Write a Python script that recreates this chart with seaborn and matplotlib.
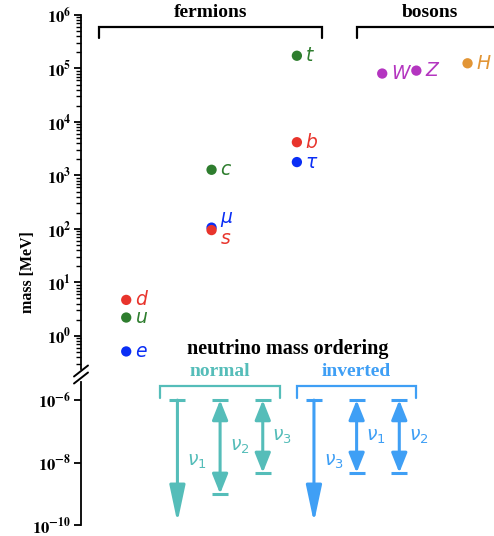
import numpy as np
import matplotlib
matplotlib.use("Agg")
import matplotlib.pyplot as plt
import seaborn as sns
from matplotlib.lines import Line2D

sns.set_theme(style="ticks")
plt.rcParams['font.family'] = ['DejaVu Sans']
plt.rcParams['axes.edgecolor'] = 'black'
plt.rcParams['text.color'] = 'black'
plt.rcParams['ytick.color'] = 'black'
plt.rcParams['ytick.labelcolor'] = 'black'
plt.rcParams['ytick.left'] = True
plt.rcParams['ytick.major.size'] = 5
plt.rcParams['ytick.minor.size'] = 3.5
plt.rcParams['ytick.major.width'] = 1.3
plt.rcParams['ytick.minor.width'] = 1.0

# -------------------------------
# Data: charged fermions and bosons
# -------------------------------
names = ['e', 'u', 'd', r'\mu', 's', 'c', r'\tau', 'b', 't', 'W', 'Z', 'H']
xpos = [1, 1, 1, 2, 2, 2, 3, 3, 3, 4, 4.4, 5]
mass = [0.511, 2.2, 4.7, 105.7, 95, 1275, 1777, 4180, 173000, 80400, 91200, 125000]
colors = ['#0a2ef5', '#2e7d2e', '#e8342c', '#0a2ef5', '#e8342c', '#2e7d2e',
          '#0a2ef5', '#e8342c', '#2e7d2e', '#b435c0', '#b435c0', '#e29535']
label_dy = [0, 0, 0, 6, -6, 0, 0, 0, 0, 0, 0, 0]

# neutrino mass ordering
nu_names = [r'$\nu_1$', r'$\nu_2$', r'$\nu_3$', r'$\nu_3$', r'$\nu_1$', r'$\nu_2$']
nu_x = [1.6, 2.1, 2.6, 3.2, 3.7, 4.2]
nu_hi = [1e-6, 1e-6, 1e-6, 1e-6, 1e-6, 1e-6]
nu_lo = [1.2e-10, 1.0e-9, 4.7e-9, 1.2e-10, 4.7e-9, 4.7e-9]
nu_open = [True, False, False, True, False, False]
nu_colors = ['#55bdb9'] * 3 + ['#3f9ff5'] * 3

top_ticks = [1e0, 1e1, 1e2, 1e3, 1e4, 1e5, 1e6]
top_labels = [r'$\mathbf{10^{%d}}$' % k for k in range(0, 7)]
bot_ticks = [1e-10, 1e-8, 1e-6]
bot_labels = [r'$\mathbf{10^{%d}}$' % k for k in (-10, -8, -6)]

# -------------------------------
# Figure and axes (broken y axis)
# -------------------------------
fig = plt.figure(figsize=(4.94, 5.36), dpi=100)
W, H = 494, 536
def px_box(x0, y0, x1, y1):
    return [x0 / W, 1 - y1 / H, (x1 - x0) / W, (y1 - y0) / H]

ax = fig.add_axes(px_box(81, 15, 494, 369))
axb = fig.add_axes(px_box(81, 382, 494, 525))

# particle points
sns.scatterplot(x=xpos, y=mass, hue=names, palette=dict(zip(names, colors)),
                s=55, edgecolor='none', legend=False, ax=ax, zorder=3)
for n, x, m, c, dy in zip(names, xpos, mass, colors, label_dy):
    ax.annotate('$%s$' % n, (x, m), xytext=(6, dy), textcoords='offset points',
                ha='left', va='center', fontsize=13.5, color=c, annotation_clip=False)

xlim = (0.47, 5.31)
for a in (ax, axb):
    a.set_yscale('log')
    a.set_xlim(*xlim)
    for s in ('top', 'right', 'bottom'):
        a.spines[s].set_visible(False)
    a.spines['left'].set_linewidth(1.3)
    a.set_xticks([])
    a.set_xlabel('')
    a.set_ylabel('')

ax.set_ylim(10 ** -0.62, 1e6)
axb.set_ylim(1e-10, 10 ** -5.42)

# brackets
serif = 'Liberation Serif'
def bracket(a, x0, x1, y, ydrop, color, label, ly, lw=1.6):
    a.plot([x0, x0, x1, x1], [ydrop, y, y, ydrop], color=color, lw=lw,
           clip_on=False, solid_joinstyle='miter')
    a.text((x0 + x1) / 2, ly, label, ha='center', va='center', color=color,
           fontsize=14, fontweight='bold', family=serif, clip_on=False)

bracket(ax, 0.68, 3.30, 10 ** 5.78, 10 ** 5.57, 'black', 'fermions', 10 ** 6.04)
bracket(ax, 3.71, 5.40, 10 ** 5.78, 10 ** 5.57, 'black', 'bosons', 10 ** 6.04)
bracket(axb, 1.40, 2.80, 10 ** -5.56, 10 ** -5.92, '#55bdb9', 'normal', 10 ** -5.08)
bracket(axb, 3.00, 4.40, 10 ** -5.56, 10 ** -5.92, '#3f9ff5', 'inverted', 10 ** -5.08)
fig.text(288 / W, 1 - 349 / H, 'neutrino mass ordering', ha='center', va='center',
         fontsize=14.5, fontweight='bold', family=serif)

# neutrino arrows
for n, x, hi, lo, op, c in zip(nu_names, nu_x, nu_hi, nu_lo, nu_open, nu_colors):
    if op:
        axb.annotate('', xy=(x, lo), xytext=(x, hi),
                     arrowprops=dict(arrowstyle='-|>,head_length=1.6,head_width=0.34',
                                     mutation_scale=14, lw=2.2, color=c,
                                     shrinkA=0, shrinkB=0))
        axb.plot([x], [hi], marker='_', ms=12, mew=2.2, color=c)
    else:
        axb.annotate('', xy=(x, lo), xytext=(x, hi),
                     arrowprops=dict(arrowstyle='<|-|>,head_length=0.85,head_width=0.34',
                                     mutation_scale=14, lw=2.2, color=c,
                                     shrinkA=0, shrinkB=0))
        axb.plot([x, x], [hi, lo], marker='_', ms=12, mew=2.2, color=c, ls='none')
    ymid = np.sqrt(hi * lo)
    axb.annotate(n, (x, ymid), xytext=(7, 0), textcoords='offset points',
                 ha='left', va='center', fontsize=13.5, color=c)

# ticks, set last so nothing resets them
ax.set_yticks(top_ticks, top_labels, math_fontfamily='stix')
ax.yaxis.set_minor_locator(matplotlib.ticker.FixedLocator(
    [s * 10.0 ** k for k in range(-1, 6) for s in range(2, 10)]))
ax.yaxis.set_minor_formatter(matplotlib.ticker.NullFormatter())
axb.set_yticks(bot_ticks, bot_labels, math_fontfamily='stix')
axb.yaxis.set_minor_locator(matplotlib.ticker.NullLocator())
for a in (ax, axb):
    a.tick_params(axis='y', which='major', direction='out', length=5, width=1.3,
                  left=True, pad=2, labelsize=12, color='black')
    a.tick_params(axis='y', which='minor', direction='out', length=3.5, width=1.0,
                  left=True, color='black')

# y label and axis break marks
fig.text(28 / W, 1 - 272 / H, 'mass [MeV]', rotation=90, ha='center', va='center',
         fontsize=11.5, fontweight='bold', family=serif)
for dy in (-3.5, 3.5):
    fig.add_artist(Line2D([74 / W, 88 / W], [1 - (380 + dy) / H, 1 - (369 + dy) / H],
                          color='black', lw=1.4))

fig.savefig('out.png', dpi=100)
